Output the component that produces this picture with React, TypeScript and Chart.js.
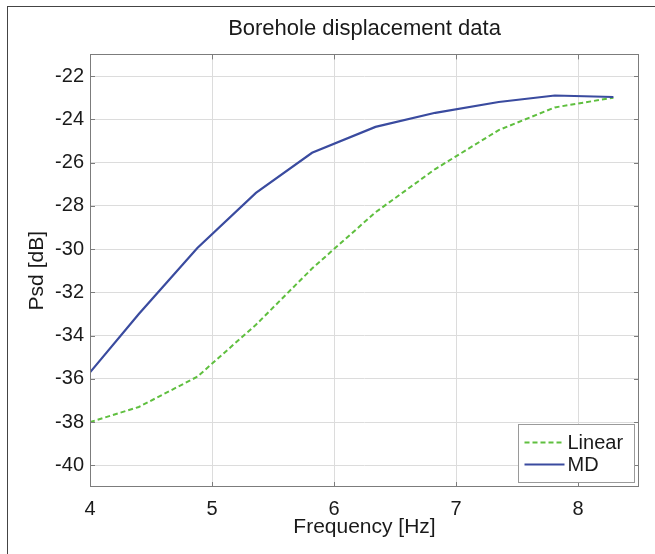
import { useEffect, useRef } from "react";
import { Chart, registerables } from "chart.js";

Chart.register(...registerables);

// ---- data ----
const frequencyHz = [4.0, 4.4, 4.88, 5.36, 5.82, 6.34, 6.83, 7.35, 7.81, 8.29];
const linearPsd = [-38.0, -37.3, -35.9, -33.5, -30.9, -28.3, -26.3, -24.5, -23.45, -23.0];
const mdPsd = [-35.7, -33.0, -29.95, -27.4, -25.55, -24.35, -23.7, -23.2, -22.9, -22.97];
const xTickValues = [4, 5, 6, 7, 8];
const yTickValues = [-40, -38, -36, -34, -32, -30, -28, -26, -24, -22];
const seriesLabels = ["Linear", "MD"];
const titleText = "Borehole displacement data";
const xTitle = "Frequency [Hz]";
const yTitle = "Psd [dB]";

const FONT = "'Liberation Sans', Arial, Helvetica, sans-serif";
const TEXT = "#1a1a1a";
const GREEN = "#5fbf3f";
const BLUE = "#3a4b9f";

const framePlugin = {
  id: "matlabFrame",
  afterDatasetsDraw(chart: any) {
    const { ctx, chartArea } = chart;
    const { left, right, top, bottom } = chartArea;
    const xs = chart.scales.x;
    const ys = chart.scales.y;
    ctx.save();
    ctx.strokeStyle = "#7c7c7c";
    ctx.lineWidth = 1;
    ctx.strokeRect(Math.round(left) + 0.5, Math.round(top) + 0.5, Math.round(right - left) - 1, Math.round(bottom - top) - 1);
    const tl = 5;
    ctx.beginPath();
    xTickValues.forEach((v) => {
      const px = Math.round(xs.getPixelForValue(v)) + 0.5;
      ctx.moveTo(px, bottom);
      ctx.lineTo(px, bottom - tl);
      ctx.moveTo(px, top);
      ctx.lineTo(px, top + tl);
    });
    yTickValues.forEach((v) => {
      const py = Math.round(ys.getPixelForValue(v)) + 0.5;
      ctx.moveTo(left, py);
      ctx.lineTo(left + tl, py);
      ctx.moveTo(right, py);
      ctx.lineTo(right - tl, py);
    });
    ctx.stroke();

    // legend box (lower right, inside axes)
    const boxW = 116;
    const boxH = 58;
    const bx = Math.round(right - 5 - boxW) + 0.5;
    const by = Math.round(bottom - 5 - boxH) + 0.5;
    ctx.fillStyle = "#ffffff";
    ctx.fillRect(bx, by, boxW, boxH);
    ctx.strokeStyle = "#9a9a9a";
    ctx.strokeRect(bx, by, boxW, boxH);
    ctx.font = `20px ${FONT}`;
    ctx.textBaseline = "middle";
    ctx.textAlign = "left";
    chart.data.datasets.forEach((ds: any, i: number) => {
      const cy = by + 18 + i * 22;
      ctx.beginPath();
      ctx.strokeStyle = ds.borderColor;
      ctx.lineWidth = 2;
      ctx.setLineDash(ds.borderDash || []);
      ctx.moveTo(bx + 6, cy);
      ctx.lineTo(bx + 46, cy);
      ctx.stroke();
      ctx.setLineDash([]);
      ctx.fillStyle = TEXT;
      ctx.fillText(ds.label, bx + 49, cy + 1);
    });
    ctx.restore();
  },
};

export default function App() {
  const canvasRef = useRef<HTMLCanvasElement>(null);

  useEffect(() => {
    if (!canvasRef.current) return;
    const chart = new Chart(canvasRef.current, {
      type: "line",
      data: {
        datasets: [
          {
            label: seriesLabels[0],
            data: frequencyHz.map((f, i) => ({ x: f, y: linearPsd[i] })),
            borderColor: GREEN,
            borderWidth: 2,
            borderDash: [5, 3],
            pointRadius: 0,
            tension: 0,
            fill: false,
            order: 1,
          },
          {
            label: seriesLabels[1],
            data: frequencyHz.map((f, i) => ({ x: f, y: mdPsd[i] })),
            borderColor: BLUE,
            borderWidth: 2.2,
            pointRadius: 0,
            tension: 0,
            fill: false,
            order: 0,
          },
        ],
      },
      options: {
        animation: false,
        responsive: false,
        maintainAspectRatio: false,
        layout: { padding: { left: 0, right: 16, top: 0, bottom: 0 } },
        plugins: {
          legend: { display: false },
          tooltip: { enabled: false },
          title: {
            display: true,
            fullSize: false,
            text: titleText,
            color: TEXT,
            font: { family: FONT, size: 22, weight: "normal" },
            padding: { top: 16, bottom: 12 },
          },
        },
        scales: {
          x: {
            type: "linear",
            min: 4,
            max: 8.5,
            afterBuildTicks: (scale: any) => {
              scale.ticks = xTickValues.map((v) => ({ value: v }));
            },
            afterFit: (scale: any) => {
              scale.height = 67;
            },
            grid: { color: "#dcdcdc", drawTicks: false, lineWidth: 1 },
            border: { display: false },
            ticks: {
              color: TEXT,
              font: { family: FONT, size: 20 },
              padding: 10,
              maxRotation: 0,
              callback: (v: any) => String(v),
            },
            title: {
              display: true,
              text: xTitle,
              color: TEXT,
              font: { family: FONT, size: 21 },
              padding: { top: 0, bottom: 14 },
            },
          },
          y: {
            type: "linear",
            min: -41,
            max: -21,
            afterBuildTicks: (scale: any) => {
              scale.ticks = yTickValues.map((v) => ({ value: v }));
            },
            afterFit: (scale: any) => {
              scale.width = 90;
            },
            grid: { color: "#dcdcdc", drawTicks: false, lineWidth: 1 },
            border: { display: false },
            ticks: {
              color: TEXT,
              font: { family: FONT, size: 20 },
              padding: 6,
              callback: (v: any) => String(v),
            },
            title: {
              display: true,
              text: yTitle,
              color: TEXT,
              font: { family: FONT, size: 21 },
              padding: { top: 25, bottom: 0 },
            },
          },
        },
      },
      plugins: [framePlugin],
    });
    return () => chart.destroy();
  }, []);

  return (
    <div style={{ position: "absolute", left: 0, top: 0, width: 655, height: 554, background: "#ffffff" }}>
      <canvas ref={canvasRef} width={655} height={554} style={{ position: "absolute", left: 0, top: 0, width: 655, height: 554 }} />
      <div
        style={{
          position: "absolute",
          left: 7,
          top: 6,
          width: 648,
          height: 548,
          borderLeft: "1.5px solid #444",
          borderTop: "1.5px solid #444",
          boxSizing: "border-box",
          pointerEvents: "none",
        }}
      />
    </div>
  );
}
